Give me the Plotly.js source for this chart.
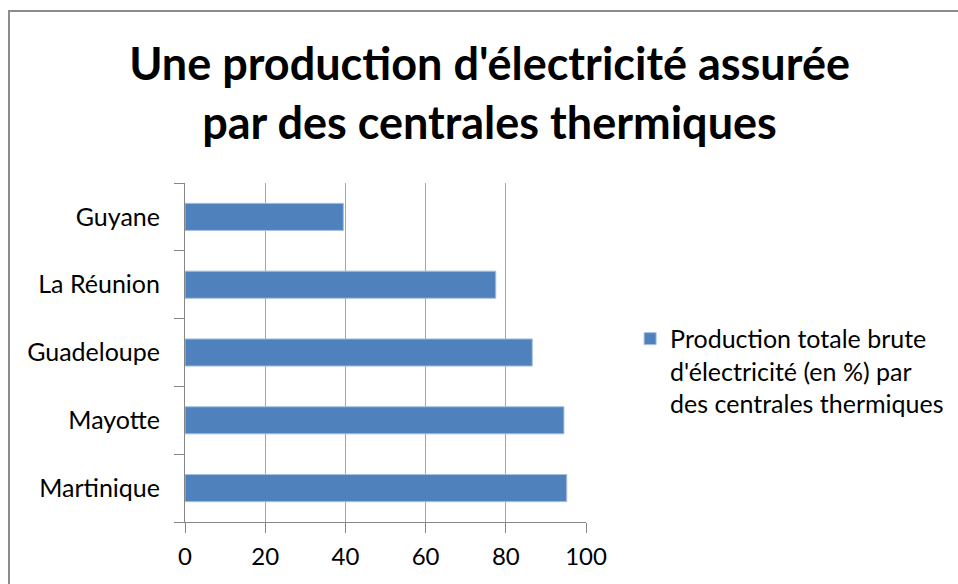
<!DOCTYPE html>
<html>
<head>
<meta charset="utf-8">
<script src="https://cdn.plot.ly/plotly-3.0.1.min.js"></script>
<style>
html,body{margin:0;padding:0;background:#fff;overflow:hidden;}
#frame{position:absolute;left:8px;top:10px;width:1000px;height:640px;border:2px solid #8c8c8c;box-sizing:border-box;}
#chart{position:absolute;left:0;top:0;width:958px;height:584px;}
</style>
</head>
<body>
<div id="frame"></div>
<div id="chart"></div>
<script>
const categories = ['Martinique', 'Mayotte', 'Guadeloupe', 'La Réunion', 'Guyane'];
const values = [95.2, 94.5, 86.6, 77.5, 39.5];
const seriesName = "Production totale brute<br>d'électricité (en %) par<br>des centrales thermiques";
const xTicks = [0, 20, 40, 60, 80, 100];
const chartTitle = "Une production d'électricité assurée<br>par des centrales thermiques";

const font = 'Lato, "Open Sans", sans-serif';

const data = [{
  type: 'bar',
  orientation: 'h',
  y: categories,
  x: values,
  name: seriesName,
  marker: {color: '#4f81bd', line: {color: '#a7c0df', width: 1}},
  showlegend: true,
  hoverinfo: 'none'
}];

const layout = {
  width: 958, height: 584,
  paper_bgcolor: 'rgba(0,0,0,0)',
  plot_bgcolor: 'rgba(0,0,0,0)',
  margin: {l: 185, r: 372, t: 183, b: 62, pad: 0, autoexpand: false},
  font: {family: font, size: 25, color: '#000'},
  title: {
    text: chartTitle,
    font: {family: font, size: 45, color: '#000', weight: 'bold'},
    x: 0.511, xanchor: 'center', xref: 'container',
    y: 0.863, yref: 'container', yanchor: 'middle',
    automargin: false
  },
  bargap: 0.6,
  xaxis: {
    range: [0, 100],
    tickvals: xTicks,
    ticktext: xTicks.map(String),
    showgrid: true, gridcolor: '#a6a6a6', gridwidth: 1,
    showline: true, linecolor: '#868686', linewidth: 1,
    ticks: 'outside', ticklen: 10, tickcolor: '#868686',
    tickfont: {family: font, size: 24, color: '#000'},
    ticklabelstandoff: 3,
    zeroline: false, fixedrange: true
  },
  yaxis: {
    type: 'category',
    categoryorder: 'array', categoryarray: categories,
    showgrid: false,
    showline: true, linecolor: '#868686', linewidth: 1,
    ticks: 'outside', ticklen: 10, tickcolor: '#868686',
    tickson: 'boundaries',
    tickfont: {family: font, size: 25, color: '#000'},
    ticklabelstandoff: 19,
    zeroline: false, fixedrange: true
  },
  legend: {
    x: 1.11, xanchor: 'left', xref: 'paper',
    y: 0.608, yanchor: 'top', yref: 'paper',
    valign: 'top',
    font: {family: font, size: 25, color: '#000'},
    bgcolor: 'rgba(0,0,0,0)',
    tracegroupgap: 0
  }
};

Plotly.newPlot('chart', data, layout, {displayModeBar: false, staticPlot: true});
</script>
</body>
</html>
